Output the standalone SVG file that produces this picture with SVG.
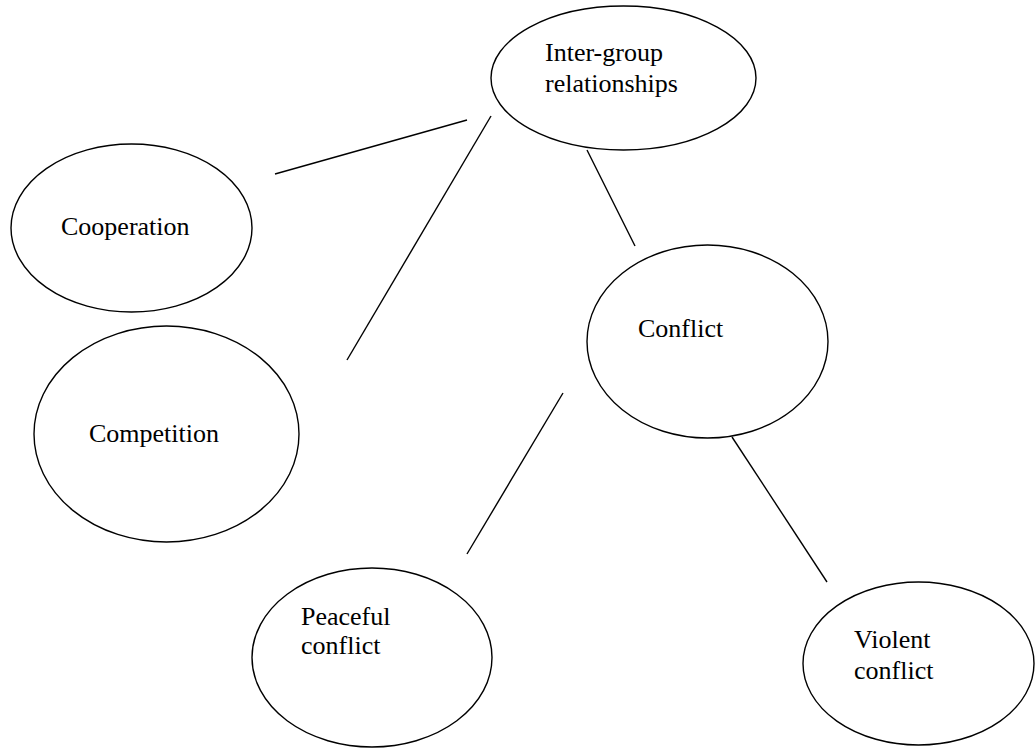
<svg xmlns="http://www.w3.org/2000/svg" width="1035" height="748" viewBox="0 0 1035 748">
<style>
.n ellipse{fill:#fff;stroke:#000;stroke-width:1.4}
.n text{font-family:"Liberation Serif","Times New Roman","DejaVu Serif",serif;font-size:26px;fill:#000}
#edges line{stroke:#000;stroke-width:1.4}
</style>
<rect width="1035" height="748" fill="#fff"/>
<g id="edges">
<line x1="275" y1="174" x2="467" y2="120"/>
<line x1="491" y1="116" x2="347" y2="360"/>
<line x1="587" y1="150" x2="635" y2="246"/>
<line x1="563" y1="393" x2="467" y2="554"/>
<line x1="732" y1="437" x2="827" y2="582"/>
</g>
<g id="intergroup" class="n">
<ellipse cx="623.5" cy="78" rx="132.5" ry="72"/>
<text x="545" y="61">Inter-group</text>
<text x="545" y="92">relationships</text>
</g>
<g id="cooperation" class="n">
<ellipse cx="131.5" cy="228" rx="120.5" ry="84"/>
<text x="61" y="235">Cooperation</text>
</g>
<g id="competition" class="n">
<ellipse cx="166.5" cy="434" rx="132.5" ry="108"/>
<text x="89" y="442">Competition</text>
</g>
<g id="conflict" class="n">
<ellipse cx="707.5" cy="341.5" rx="120.5" ry="96.5"/>
<text x="638" y="337">Conflict</text>
</g>
<g id="peaceful" class="n">
<ellipse cx="372" cy="657.5" rx="120" ry="89.5"/>
<text x="301" y="625">Peaceful</text>
<text x="301" y="654">conflict</text>
</g>
<g id="violent" class="n">
<ellipse cx="918.5" cy="663.5" rx="115.5" ry="81.5"/>
<text x="854" y="648">Violent</text>
<text x="854" y="679">conflict</text>
</g>
</svg>
